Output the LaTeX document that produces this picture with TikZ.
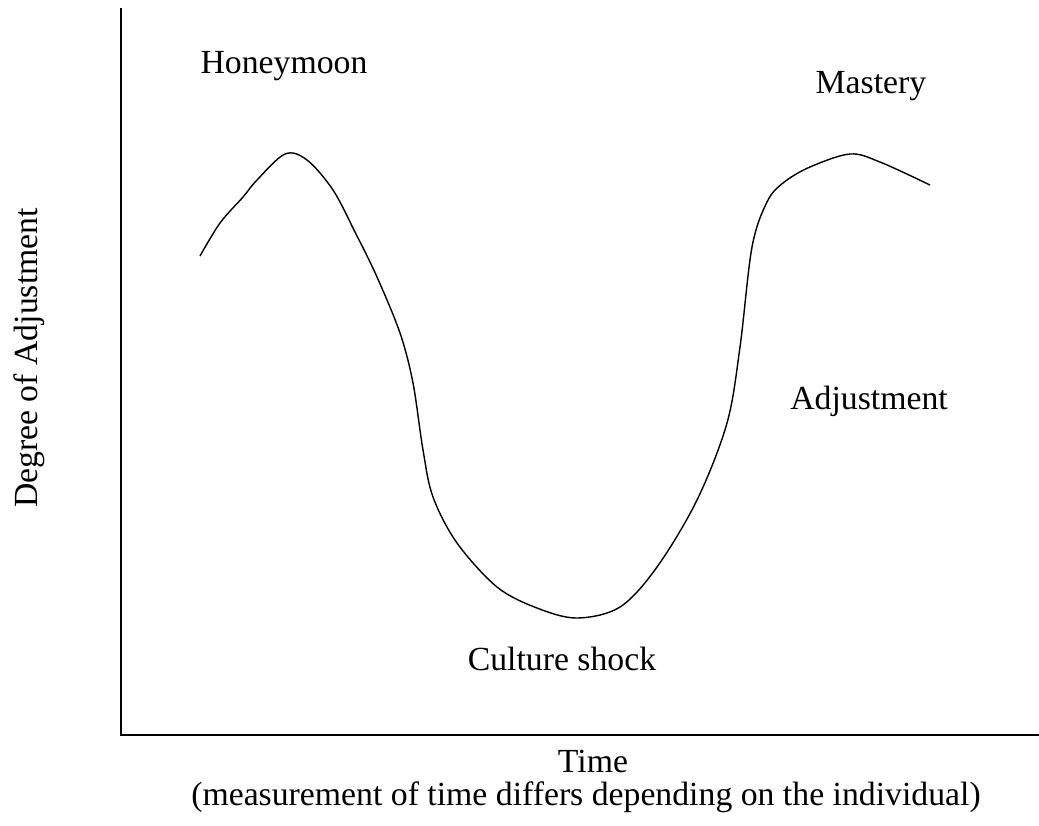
\documentclass[tikz,border=0pt]{standalone}
\usepackage{fontspec}
\setmainfont{Liberation Serif}
\usepackage{tikz}
\usetikzlibrary{positioning, calc}

\begin{document}
\begin{tikzpicture}[
    x=0.025cm, y=-0.025cm,
    every node/.style={font=\fontsize{24}{28}\selectfont, align=center, inner sep=0pt},
    axis/.style={line width=1.2pt, draw=black},
    curve/.style={line width=1pt, draw=black, smooth, tension=0.55}
]
\useasboundingbox (0,0) rectangle (1039,825);

% Axes
\coordinate (top) at (121,8);
\coordinate (origin) at (121,735);
\coordinate (right) at (1039,735);
\draw [axis] (top) -- (origin) -- (right);

% Curve
\draw [curve] plot coordinates {
    (200,256) (220,223) (243,197) (257,180) (285,154) (307,160) (333,190)
    (355,232) (377,277) (400,333) (413,383) (423,450) (433,497) (457,543)
    (497,587) (537,608) (577,618) (620,607) (657,567) (697,500) (727,423)
    (740,347) (752,247) (767,202) (783,183) (810,167) (850,154) (880,162)
    (930,185)
};

% Labels
\node (honeymoon) at (284,66) {Honeymoon};
\node (mastery) at (871,86) {Mastery};
\node (adjust) at (869,401) {Adjustment};
\node (shock) at (562,659) {Culture shock};
\node (ylabel) [rotate=90] at (29,358) {Degree of Adjustment};
\node (xlabel) at (593,761) {Time};
\node (xnote) at (586,797) {(measurement of time differs depending on the individual)};

\end{tikzpicture}
\end{document}
